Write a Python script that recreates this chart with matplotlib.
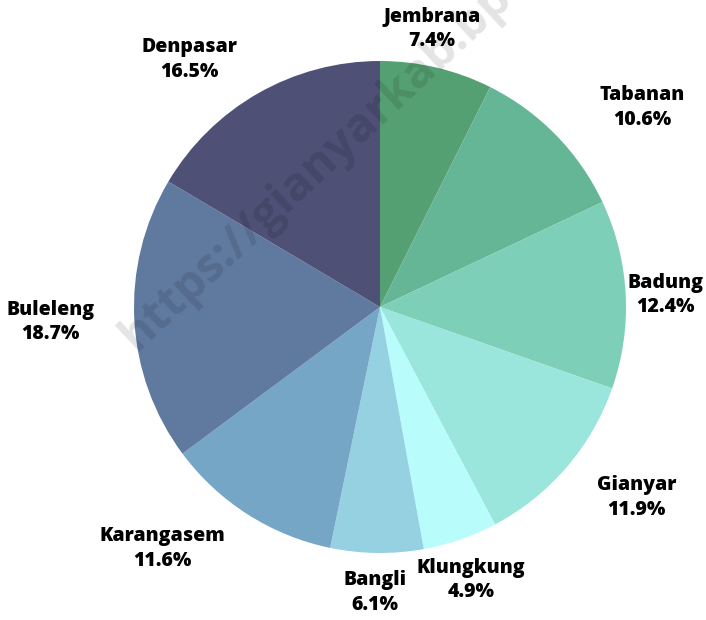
import matplotlib.pyplot as plt
import numpy as np

# Share of each regency/city (%)
regions = ['Jembrana', 'Tabanan', 'Badung', 'Gianyar', 'Klungkung',
           'Bangli', 'Karangasem', 'Buleleng', 'Denpasar']
shares = [7.4, 10.6, 12.4, 11.9, 4.9, 6.1, 11.6, 18.7, 16.5]
colors = ['#55a072', '#64b697', '#7ecfb7', '#9be6dc', '#b8fcfc',
          '#95d1e1', '#75a6c5', '#60799f', '#4e5076']

# label placement (angle in degrees, distance in pie radii)
label_angle = [79.4, 37.2, 2.4, -36.6, -71.6, -91.0, -132.0, -177.4, 127.6]
label_dist = [1.15, 1.34, 1.16, 1.30, 1.17, 1.16, 1.32, 1.34, 1.27]

W, H = 706, 620
cx, cy, R = 380, 307, 246

fig = plt.figure(figsize=(W / 100, H / 100), dpi=100)
ax = fig.add_axes([(cx - R) / W, (H - cy - R) / H, 2 * R / W, 2 * R / H])

ax.pie(shares, colors=colors, startangle=90, counterclock=False,
       radius=1.0, wedgeprops=dict(linewidth=0))

for name, val, a, d in zip(regions, shares, label_angle, label_dist):
    t = np.deg2rad(a)
    ax.text(d * np.cos(t), d * np.sin(t), f'{name}\n{val}%',
            ha='center', va='center', fontsize=14, fontweight='heavy',
            family='Open Sans', linespacing=1.3, color='black')

ax.set_xlim(-1, 1)
ax.set_ylim(-1, 1)
ax.set_aspect('equal')
ax.axis('off')

# watermark
fig.text(136 / W, 1 - 352 / H, 'https://gianyarkab.bps.go.id',
         rotation=43, rotation_mode='anchor', ha='left', va='baseline',
         fontsize=34, fontweight='bold', family='Open Sans',
         color='black', alpha=0.11)

fig.savefig('out.png', dpi=100)
